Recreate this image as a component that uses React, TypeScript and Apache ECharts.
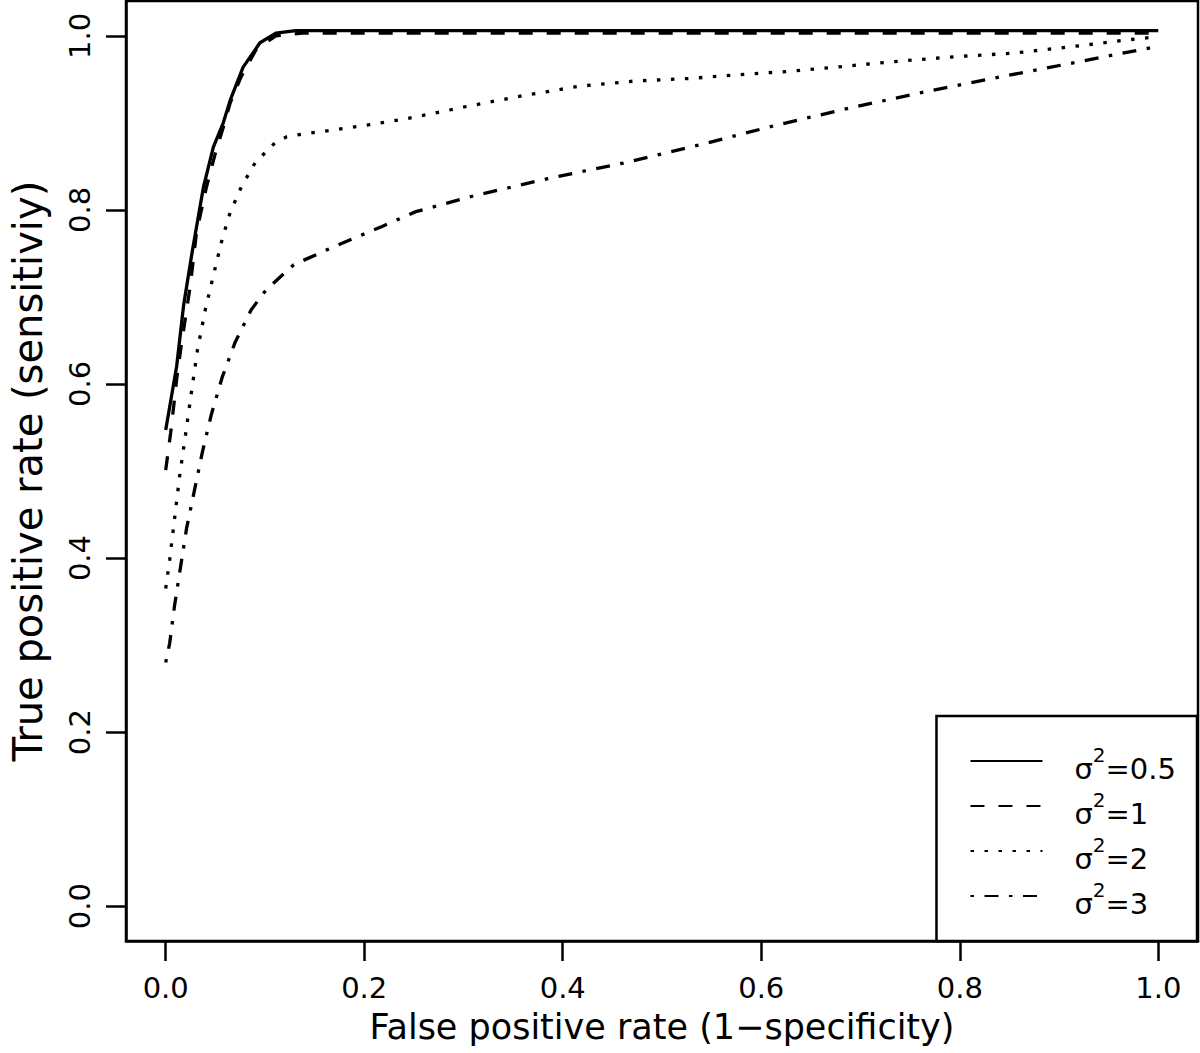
import React, { useEffect, useRef } from "react";
import * as echarts from "echarts";

const xTicks = [0, 0.2, 0.4, 0.6, 0.8, 1.0];
const yTicks = [0, 0.2, 0.4, 0.6, 0.8, 1.0];
const sigmaLabels = ["0.5", "1", "2", "3"];
const xTitle = "False positive rate (1−specificity)";
const yTitle = "True positive rate (sensitiviy)";

// sigma^2 = 0.5 (solid)
const fpr05 = [0, 0.011, 0.018, 0.027, 0.038, 0.048, 0.058, 0.065, 0.078, 0.095, 0.111, 0.131, 1.0];
const tpr05 = [0.547, 0.62, 0.69, 0.754, 0.826, 0.872, 0.9, 0.926, 0.964, 0.992, 1.003, 1.006, 1.006];

// sigma^2 = 1 (dashed)
const fpr1 = [0, 0.005, 0.008, 0.011, 0.015, 0.02, 0.025, 0.031, 0.041, 0.05, 0.058, 0.065, 0.076, 0.091, 0.111, 0.138, 1.0];
const tpr1 = [0.501, 0.544, 0.574, 0.605, 0.639, 0.677, 0.715, 0.774, 0.826, 0.865, 0.895, 0.923, 0.953, 0.984, 1.0, 1.003, 1.003];

// sigma^2 = 2 (dotted)
const fpr2 = [0, 0.004, 0.009, 0.014, 0.02, 0.026, 0.032, 0.04, 0.05, 0.057, 0.065, 0.076, 0.09, 0.11, 0.122, 0.137, 0.164, 0.207, 0.248, 0.304, 0.359, 0.416, 0.472, 0.528, 0.585, 0.627, 0.684, 0.74, 0.796, 0.853, 0.909, 0.966, 1.0];
const tpr2 = [0.365, 0.398, 0.446, 0.494, 0.542, 0.591, 0.639, 0.686, 0.734, 0.767, 0.797, 0.826, 0.854, 0.877, 0.884, 0.887, 0.891, 0.898, 0.906, 0.919, 0.931, 0.942, 0.948, 0.951, 0.956, 0.959, 0.965, 0.971, 0.976, 0.98, 0.987, 0.995, 0.999];

// sigma^2 = 3 (dot-dash)
const fpr3 = [0, 0.004, 0.009, 0.015, 0.021, 0.029, 0.037, 0.046, 0.057, 0.07, 0.086, 0.101, 0.129, 0.168, 0.218, 0.252, 0.31, 0.385, 0.462, 0.539, 0.614, 0.689, 0.766, 0.842, 0.919, 0.982, 1.0];
const tpr3 = [0.28, 0.302, 0.346, 0.39, 0.434, 0.478, 0.522, 0.565, 0.608, 0.648, 0.685, 0.708, 0.737, 0.757, 0.781, 0.798, 0.816, 0.836, 0.854, 0.875, 0.897, 0.917, 0.936, 0.953, 0.97, 0.984, 0.988];

const curveX = [fpr05, fpr1, fpr2, fpr3];
const curveY = [tpr05, tpr1, tpr2, tpr3];
const dashes: (number[] | string)[] = ["solid", [14, 14], [3.5, 10.5], [3.5, 10.5, 14, 10.5]];

const FONT = "DejaVu Sans";

export default function App() {
  const ref = useRef<HTMLDivElement>(null);
  useEffect(() => {
    document.body.style.margin = "0";
    if (!ref.current) return;
    const chart = echarts.init(ref.current, null, { renderer: "svg" });
    const series = sigmaLabels.map((lab, i) => ({
      name: `σ²=${lab}`,
      type: "line",
      data: curveX[i].map((x, j) => [x, curveY[i][j]]),
      showSymbol: false,
      symbol: "none",
      lineStyle: { color: "#000", width: 3.3, type: dashes[i], cap: "butt" },
      itemStyle: { color: "#000" },
      z: 3,
    }));
    const axisCommon = {
      type: "value",
      min: -0.04,
      max: 1.04,
      splitLine: { show: false },
      axisLine: { show: true, onZero: false, lineStyle: { color: "#000", width: 2.5 } },
      nameLocation: "middle",
    };
    chart.setOption({
      animation: false,
      backgroundColor: "#fff",
      grid: {
        left: 122,
        right: 2,
        top: 1,
        bottom: 112,
        show: true,
        borderColor: "#000",
        borderWidth: 2.5,
        containLabel: false,
      },
      xAxis: {
        ...axisCommon,
        axisTick: { show: true, customValues: xTicks, length: 20, lineStyle: { color: "#000", width: 2.5 } },
        axisLabel: {
          customValues: xTicks,
          formatter: (v: number) => v.toFixed(1),
          fontSize: 29,
          fontFamily: FONT,
          color: "#000",
          margin: 32,
        },
        name: xTitle,
        nameGap: 68,
        nameTextStyle: { fontSize: 35, fontFamily: FONT, color: "#000" },
      },
      yAxis: {
        ...axisCommon,
        axisTick: { show: true, customValues: yTicks, length: 20, lineStyle: { color: "#000", width: 2.5 } },
        axisLabel: {
          customValues: yTicks,
          formatter: (v: number) => v.toFixed(1),
          fontSize: 29,
          fontFamily: FONT,
          color: "#000",
          margin: 32,
          rotate: 90,
        },
        name: yTitle,
        nameGap: 78,
        nameTextStyle: { fontSize: 40, fontFamily: FONT, color: "#000" },
      },
      legend: {
        orient: "vertical",
        right: 3,
        bottom: 112,
        padding: [23, 21, 23, 33],
        itemGap: 1,
        itemWidth: 72,
        itemHeight: 20,
        borderColor: "#000",
        borderWidth: 2.5,
        borderRadius: 0,
        backgroundColor: "#fff",
        selectedMode: false,
        itemStyle: { opacity: 0 },
        data: sigmaLabels.map((lab) => `σ²=${lab}`),
        formatter: (name: string) => {
          const v = name.split("=")[1];
          return `{a|σ}{u|2}{b|=${v}}`;
        },
        textStyle: {
          fontFamily: FONT,
          color: "#000",
          rich: {
            a: { fontSize: 29, fontFamily: FONT, color: "#000", lineHeight: 44, height: 29, verticalAlign: "bottom", padding: [0, 0, 0, 27] },
            u: { fontSize: 20, fontFamily: FONT, color: "#000", lineHeight: 32, height: 32, verticalAlign: "top" },
            b: { fontSize: 29, fontFamily: FONT, color: "#000", lineHeight: 44, height: 29, verticalAlign: "bottom" },
          },
        },
      },
      series,
    });
    return () => chart.dispose();
  }, []);
  return <div ref={ref} style={{ width: 1200, height: 1053 }} />;
}
